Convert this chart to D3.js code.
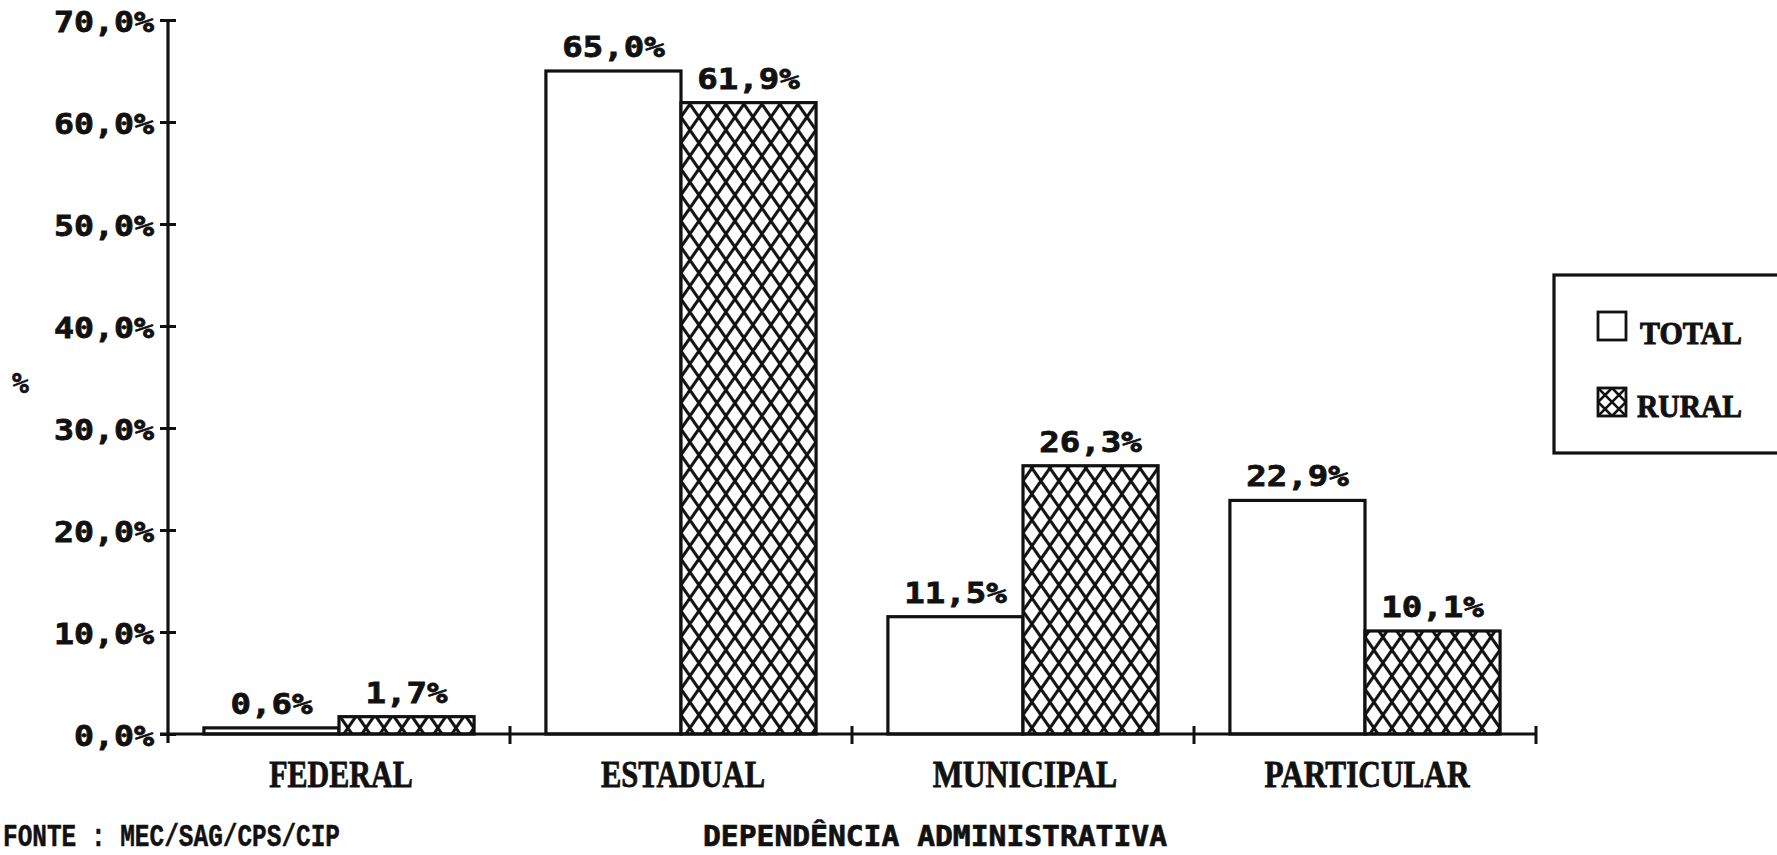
<!DOCTYPE html>
<html>
<head>
<meta charset="utf-8">
<script src="https://cdn.jsdelivr.net/npm/d3@7/dist/d3.min.js"></script>
<style>
  html, body { margin: 0; padding: 0; background: #ffffff; }
  svg { display: block; }
</style>
</head>
<body>
<svg id="chart" width="1777" height="855"></svg>
<script>
// ---- data ----
const categories = ["FEDERAL", "ESTADUAL", "MUNICIPAL", "PARTICULAR"];
const seriesNames = ["TOTAL", "RURAL"];
const totalValues = [0.6, 65.0, 11.5, 22.9];
const ruralValues = [1.7, 61.9, 26.3, 10.1];
const yTickValues = [0, 10, 20, 30, 40, 50, 60, 70];
const yTickLabels = ["0,0%", "10,0%", "20,0%", "30,0%", "40,0%", "50,0%", "60,0%", "70,0%"];
const totalLabels = ["0,6%", "65,0%", "11,5%", "22,9%"];
const ruralLabels = ["1,7%", "61,9%", "26,3%", "10,1%"];
const yAxisTitle = "%";
const xAxisTitle = "DEPENDÊNCIA ADMINISTRATIVA";
const sourceNote = "FONTE : MEC/SAG/CPS/CIP";

// ---- layout ----
const svg = d3.select("#chart");
const plotLeft = 168, plotRight = 1536, yBottom = 734, yTop = 20;
const ink = "#111";

const y = d3.scaleLinear().domain([0, 70]).range([yBottom, yTop]);
const x0 = d3.scaleBand().domain(categories).range([plotLeft, plotRight])
  .paddingInner(0.21).paddingOuter(0.105);
const x1 = d3.scaleBand().domain(seriesNames).range([0, x0.bandwidth()]);

// hatch pattern
const defs = svg.append("defs");
const pw = 18, ph = 26;
const pat = defs.append("pattern").attr("id", "hatch")
  .attr("patternUnits", "userSpaceOnUse").attr("width", pw).attr("height", ph);
pat.append("rect").attr("width", pw).attr("height", ph).attr("fill", "#fff");
pat.append("path").attr("d", `M0,0 L${pw},${ph} M${pw},0 L0,${ph} M-2,${ph-3} L2,${ph+3} M${pw-2},-3 L${pw+2},3`)
  .attr("stroke", ink).attr("stroke-width", 3).attr("fill", "none");

const rows = categories.map((c, i) => ({
  cat: c,
  vals: [
    {s: "TOTAL", v: totalValues[i], lab: totalLabels[i]},
    {s: "RURAL", v: ruralValues[i], lab: ruralLabels[i]}
  ]
}));

// bars
const g = svg.append("g");
const groups = g.selectAll("g.grp").data(rows).join("g")
  .attr("class", "grp")
  .attr("transform", d => `translate(${x0(d.cat)},0)`);

groups.selectAll("rect").data(d => d.vals).join("rect")
  .attr("x", d => x1(d.s))
  .attr("y", d => y(d.v))
  .attr("width", x1.bandwidth())
  .attr("height", d => y(0) - y(d.v))
  .attr("fill", d => d.s === "TOTAL" ? "#fff" : "url(#hatch)")
  .attr("stroke", ink)
  .attr("stroke-width", 3.2);

groups.selectAll("text").data(d => d.vals).join("text")
  .attr("x", d => x1(d.s) + x1.bandwidth() / 2)
  .attr("y", d => y(d.v) - 14)
  .attr("text-anchor", "middle")
  .attr("font-family", "DejaVu Sans Mono")
  .attr("font-weight", "bold")
  .attr("font-size", 29)
  .attr("textLength", d => d.lab.length * 20.5)
  .attr("lengthAdjust", "spacingAndGlyphs")
  .attr("fill", ink).attr("stroke", ink).attr("stroke-width", 0.8)
  .text(d => d.lab);

// y axis
const yAxis = d3.axisLeft(y).tickValues(yTickValues)
  .tickFormat((d, i) => yTickLabels[i]).tickSize(8).tickPadding(6);
const ya = svg.append("g").attr("transform", `translate(${plotLeft},0)`).call(yAxis);
ya.select(".domain").remove();
ya.selectAll(".tick line").attr("x1", -8).attr("x2", 8)
  .attr("stroke", ink).attr("stroke-width", 3);
ya.selectAll(".tick text")
  .attr("font-family", "DejaVu Sans Mono")
  .attr("font-weight", "bold")
  .attr("font-size", 29)
  .attr("dy", "0.4em")
  .attr("textLength", (d, i) => yTickLabels[i].length * 20)
  .attr("lengthAdjust", "spacingAndGlyphs")
  .attr("fill", ink).attr("stroke", ink).attr("stroke-width", 0.8);
svg.append("line").attr("x1", plotLeft).attr("x2", plotLeft)
  .attr("y1", yTop).attr("y2", yBottom + 9)
  .attr("stroke", ink).attr("stroke-width", 3.2);

// x axis line + separators
svg.append("line").attr("x1", plotLeft - 8).attr("x2", plotRight)
  .attr("y1", yBottom).attr("y2", yBottom)
  .attr("stroke", ink).attr("stroke-width", 3.2);
const step = x0.step();
svg.selectAll("line.sep").data(categories).join("line")
  .attr("class", "sep")
  .attr("x1", d => x0(d) + step * (1 - x0.paddingOuter()))
  .attr("x2", d => x0(d) + step * (1 - x0.paddingOuter()))
  .attr("y1", yBottom - 8).attr("y2", yBottom + 10)
  .attr("stroke", ink).attr("stroke-width", 3);

// category labels
svg.selectAll("text.cat").data(categories).join("text")
  .attr("class", "cat")
  .attr("x", d => x0(d) + x0.bandwidth() / 2 + 2)
  .attr("y", 787)
  .attr("text-anchor", "middle")
  .attr("font-family", "Liberation Serif")
  .attr("font-weight", "bold")
  .attr("font-size", 37)
  .attr("textLength", d => d.length * 20.5)
  .attr("lengthAdjust", "spacingAndGlyphs")
  .attr("fill", ink).attr("stroke", ink).attr("stroke-width", 0.8)
  .text(d => d);

// axis titles
svg.append("text").attr("x", 12).attr("y", 393)
  .attr("font-family", "DejaVu Sans Mono").attr("font-weight", "bold")
  .attr("font-size", 28).attr("fill", ink).attr("stroke", ink).attr("stroke-width", 0.6)
  .text(yAxisTitle);

svg.append("text").attr("x", 703).attr("y", 846)
  .attr("font-family", "DejaVu Sans Mono").attr("font-weight", "bold")
  .attr("font-size", 29)
  .attr("textLength", 464).attr("lengthAdjust", "spacingAndGlyphs")
  .attr("fill", ink).attr("stroke", ink).attr("stroke-width", 0.7)
  .text(xAxisTitle);

svg.append("text").attr("x", 3).attr("y", 846)
  .attr("font-family", "Liberation Mono").attr("font-weight", "bold")
  .attr("font-size", 32)
  .attr("textLength", 337).attr("lengthAdjust", "spacingAndGlyphs")
  .attr("fill", ink).attr("stroke", ink).attr("stroke-width", 0.5)
  .text(sourceNote);

// legend
const leg = svg.append("g");
leg.append("rect").attr("x", 1554).attr("y", 275).attr("width", 260).attr("height", 178)
  .attr("fill", "#fff").attr("stroke", ink).attr("stroke-width", 3.2);
const sw = 28, swX = 1598;
const lpat = defs.append("pattern").attr("id", "hatchLeg")
  .attr("patternUnits", "userSpaceOnUse").attr("width", sw).attr("height", sw)
  .attr("x", swX).attr("y", 388);
lpat.append("rect").attr("width", sw).attr("height", sw).attr("fill", "#fff");
lpat.append("path").attr("d", `M0,0 L${sw},${sw} M${sw},0 L0,${sw} M${sw/2},0 L${sw},${sw/2} L${sw/2},${sw} L0,${sw/2} Z`)
  .attr("stroke", ink).attr("stroke-width", 2.6).attr("fill", "none");
const legItems = seriesNames.map((s, i) => ({s, i}));
leg.selectAll("rect.sw").data(legItems).join("rect")
  .attr("class", "sw")
  .attr("x", swX).attr("y", d => 312 + d.i * 76)
  .attr("width", sw).attr("height", sw)
  .attr("fill", d => d.s === "TOTAL" ? "#fff" : "url(#hatchLeg)")
  .attr("stroke", ink).attr("stroke-width", 2.8);
leg.selectAll("text.lt").data(legItems).join("text")
  .attr("class", "lt")
  .attr("x", d => d.s === "TOTAL" ? 1640 : 1637)
  .attr("y", d => 344 + d.i * 73)
  .attr("font-family", "Liberation Serif").attr("font-weight", "bold")
  .attr("font-size", 32)
  .attr("textLength", d => d.s === "TOTAL" ? 102 : 105)
  .attr("lengthAdjust", "spacingAndGlyphs")
  .attr("fill", ink).attr("stroke", ink).attr("stroke-width", 1)
  .text(d => d.s);
</script>
</body>
</html>
